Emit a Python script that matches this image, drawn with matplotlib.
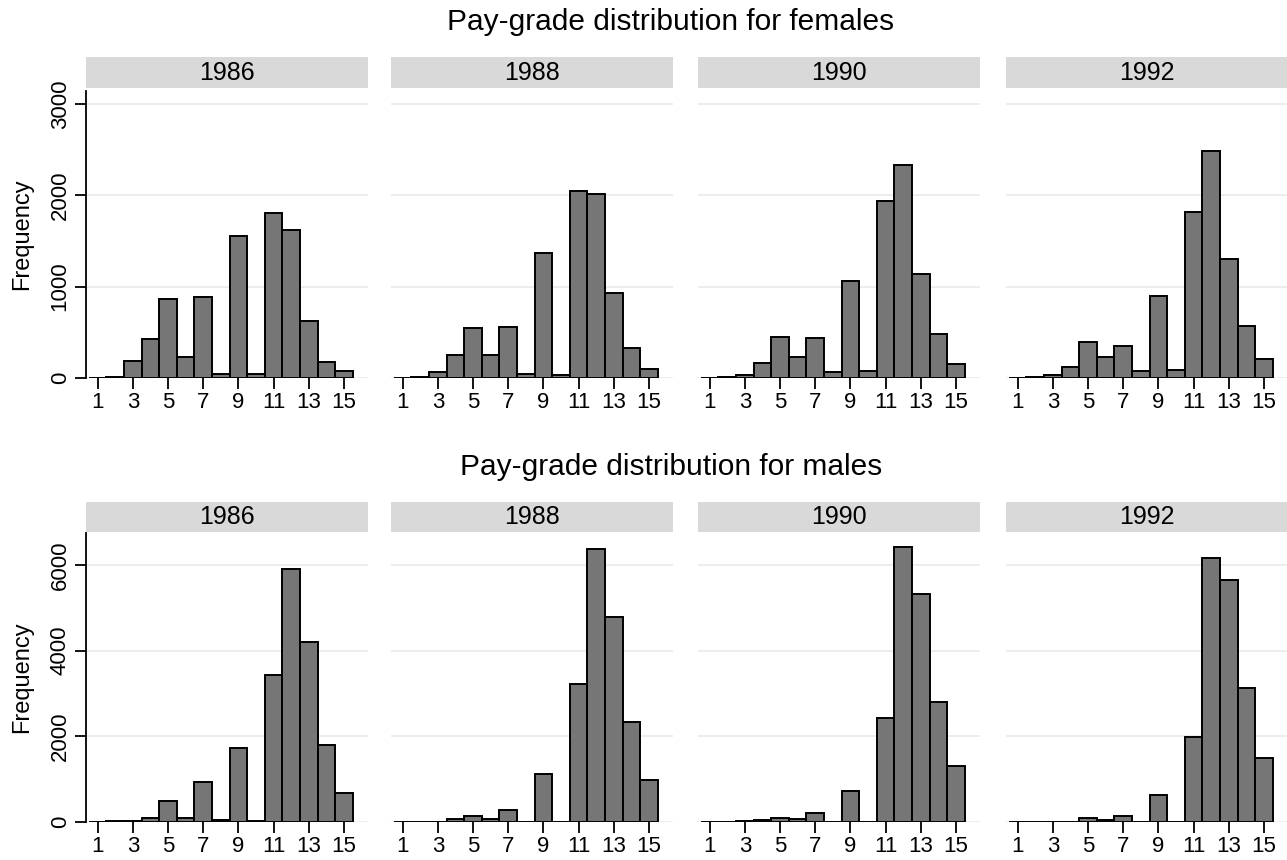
import numpy as np
import matplotlib
matplotlib.use("Agg")
import matplotlib.pyplot as plt
from matplotlib.patches import Rectangle

plt.rcParams['font.family'] = ['Liberation Sans', 'DejaVu Sans']

grades = np.arange(1, 16)
years = ["1986", "1988", "1990", "1992"]

# female counts per pay grade 1..15
fem_1986 = [3, 8, 190, 423, 861, 234, 887, 47, 1555, 40, 1807, 1617, 624, 179, 77]
fem_1988 = [2, 15, 69, 252, 551, 252, 558, 44, 1365, 36, 2047, 2011, 927, 328, 98]
fem_1990 = [2, 10, 29, 164, 453, 226, 434, 62, 1058, 73, 1938, 2328, 1139, 485, 153]
fem_1992 = [2, 15, 33, 120, 390, 230, 347, 73, 898, 88, 1818, 2485, 1299, 569, 208]

# male counts per pay grade 1..15
male_1986 = [3, 15, 23, 93, 490, 93, 942, 39, 1735, 15, 3432, 5907, 4195, 1790, 677]
male_1988 = [2, 8, 8, 62, 140, 78, 272, 8, 1121, 8, 3222, 6366, 4786, 2335, 981]
male_1990 = [2, 8, 15, 39, 101, 62, 202, 8, 716, 8, 2428, 6420, 5323, 2802, 1300]
male_1992 = [2, 8, 8, 8, 101, 39, 140, 8, 630, 8, 1992, 6156, 5658, 3136, 1502]

fem = [fem_1986, fem_1988, fem_1990, fem_1992]
male = [male_1986, male_1988, male_1990, male_1992]

W, H = 1287, 860
fig = plt.figure(figsize=(W / 100, H / 100), dpi=100)

lefts = [86, 391, 698, 1006]
pw = 282

rows = [
    # data, title, title y, header top, header bottom, axes top, axes bottom, ymax, yticks
    (fem, "Pay-grade distribution for females", 22, 57, 88, 91, 378, 3142, [0, 1000, 2000, 3000]),
    (male, "Pay-grade distribution for males", 467, 502, 532, 533, 822, 6747, [0, 2000, 4000, 6000]),
]

for data, title, ty, ht, hb, at, ab, ymax, yt in rows:
    fig.text(671 / W, 1 - ty / H, title, ha='center', va='center', fontsize=21.5)
    for i, (vals, yr) in enumerate(zip(data, years)):
        x0 = lefts[i] / W
        ax = fig.add_axes([x0, 1 - ab / H, pw / W, (ab - at) / H])
        ax.bar(grades, vals, width=1.0, color='#767676', edgecolor='black',
               linewidth=1.4, zorder=3)
        ax.set_xlim(0.34, 16.36)
        ax.set_ylim(0, ymax)
        ax.set_yticks(yt)
        ax.grid(axis='y', color='#eaeaea', linewidth=1.2, zorder=0)
        ax.set_xticks(np.arange(1, 16, 2))
        ax.tick_params(axis='x', length=8, width=1.3, labelsize=16, pad=2)
        for s in ['top', 'right', 'bottom']:
            ax.spines[s].set_visible(False)
        if i == 0:
            ax.spines['left'].set_linewidth(1.3)
            ax.tick_params(axis='y', length=8, width=1.3, labelsize=16, pad=3)
            for lab in ax.get_yticklabels():
                lab.set_rotation(90)
                lab.set_va('center')
            ax.set_ylabel("Frequency", fontsize=17, labelpad=12)
        else:
            ax.spines['left'].set_visible(False)
            ax.tick_params(axis='y', length=0, labelleft=False)
        # strip header
        fig.patches.append(Rectangle((x0, 1 - hb / H), pw / W, (hb - ht) / H,
                                     transform=fig.transFigure, facecolor='#d9d9d9',
                                     edgecolor='none'))
        fig.text(x0 + pw / (2 * W), 1 - (ht + hb) / (2 * H), yr,
                 ha='center', va='center', fontsize=18)

fig.savefig("out.png", dpi=100)
